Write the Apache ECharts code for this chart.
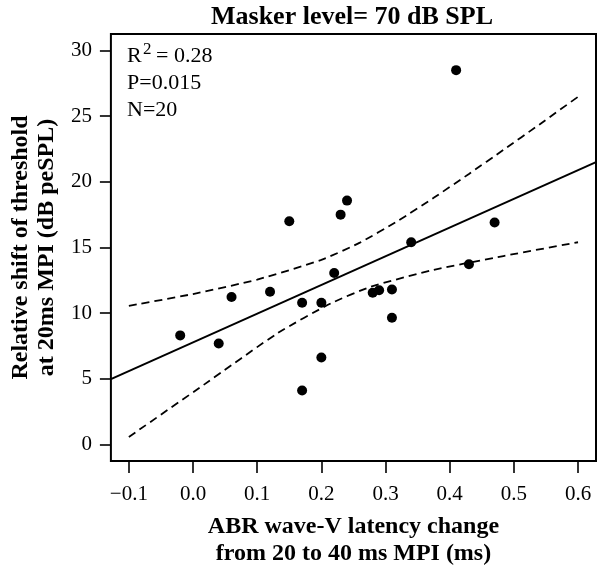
<!DOCTYPE html>
<html>
<head>
<meta charset="utf-8">
<script src="https://cdn.jsdelivr.net/npm/echarts@6/dist/echarts.min.js"></script>
<style>html,body{margin:0;padding:0;background:#fff;}#c{width:604px;height:576px;}</style>
</head>
<body>
<div id="c"></div>
<script>
// ---- data ----
const xTicks = [-0.1, 0.0, 0.1, 0.2, 0.3, 0.4, 0.5, 0.6];
const yTicks = [0, 5, 10, 15, 20, 25, 30];
const ptsX = [-0.02, 0.04, 0.06, 0.12, 0.15, 0.17, 0.17, 0.20, 0.20, 0.22, 0.23, 0.24, 0.28, 0.29, 0.31, 0.31, 0.34, 0.41, 0.43, 0.47];
const ptsY = [8.31, 7.70, 11.23, 11.63, 17.0, 10.8, 4.12, 10.8, 6.63, 13.06, 17.5, 18.57, 11.56, 11.74, 11.81, 9.65, 15.4, 28.5, 13.72, 16.9];
const fitX = [-0.128, 0.628];
const fitY = [4.98, 21.5];
const upperX = [-0.1, 0.0, 0.1, 0.2, 0.26, 0.32, 0.375, 0.43, 0.4837, 0.54, 0.6];
const upperY = [10.56, 11.46, 12.56, 14.06, 15.37, 17.05, 18.78, 20.6, 22.43, 24.37, 26.47];
const lowerX = [-0.1, 0.0188, 0.1325, 0.215, 0.277, 0.375, 0.4837, 0.6];
const lowerY = [0.58, 4.62, 8.5, 10.75, 12.01, 13.3, 14.35, 15.4];
const titleText = 'Masker level= 70 dB SPL';
const xName = 'ABR wave-V latency change\nfrom 20 to 40 ms MPI (ms)';
const yName = 'Relative shift of threshold\nat 20ms MPI (dB peSPL)';

const zip = (a, b) => a.map((v, i) => [v, b[i]]);
const FONT = '"Liberation Serif", "Times New Roman", serif';

const chart = echarts.init(document.getElementById('c'), null, {renderer: 'canvas'});
chart.setOption({
  animation: false,
  backgroundColor: '#fff',
  grid: {left: 108, right: 8, top: 34, bottom: 115, show: true, borderColor: '#000', borderWidth: 2, backgroundColor: 'transparent'},
  xAxis: {
    type: 'value', min: -0.128, max: 0.628,
    axisLine: {show: false, onZero: false},
    splitLine: {show: false},
    axisTick: {show: true, customValues: xTicks, length: 12, lineStyle: {color: '#000', width: 1.6}},
    axisLabel: {customValues: xTicks, margin: 23, color: '#000', fontFamily: FONT, fontSize: 21,
      formatter: v => (v < -1e-9 ? '\u2212' : '') + Math.abs(v).toFixed(1)},
    name: xName, nameLocation: 'middle', nameGap: 52,
    nameTextStyle: {color: '#000', fontFamily: FONT, fontSize: 24, fontWeight: 'bold', lineHeight: 27}
  },
  yAxis: {
    type: 'value', min: -1.25, max: 31.25,
    axisLine: {show: false, onZero: false},
    splitLine: {show: false},
    axisTick: {show: true, customValues: yTicks, length: 11, lineStyle: {color: '#000', width: 1.6}},
    axisLabel: {customValues: yTicks, margin: 19, color: '#000', fontFamily: FONT, fontSize: 21,
      formatter: v => String(Math.round(v))},
    name: yName, nameLocation: 'middle', nameGap: 46, nameRotate: 90,
    nameTextStyle: {color: '#000', fontFamily: FONT, fontSize: 24, fontWeight: 'bold', lineHeight: 26}
  },
  series: [
    {type: 'line', data: zip(fitX, fitY), showSymbol: false, symbol: 'none',
      lineStyle: {color: '#000', width: 2}, z: 3},
    {type: 'line', data: zip(upperX, upperY), showSymbol: false, symbol: 'none', smooth: 0.2,
      lineStyle: {color: '#000', width: 1.8, type: [8, 5]}, z: 3},
    {type: 'line', data: zip(lowerX, lowerY), showSymbol: false, symbol: 'none', smooth: 0.2,
      lineStyle: {color: '#000', width: 1.8, type: [8, 5]}, z: 3},
    {type: 'scatter', data: zip(ptsX, ptsY), symbol: 'circle', symbolSize: 10,
      itemStyle: {color: '#000', opacity: 1}, z: 4}
  ],
  graphic: [
    {type: 'text', x: 352, y: 17.5, style: {text: titleText, fill: '#000', font: 'bold 26px ' + FONT, textAlign: 'center', textVerticalAlign: 'middle'}},
    {type: 'text', x: 127, y: 56.6, style: {text: 'R', fill: '#000', font: '22px ' + FONT, textAlign: 'left', textVerticalAlign: 'middle'}},
    {type: 'text', x: 143, y: 49.3, style: {text: '2', fill: '#000', font: '17px ' + FONT, textAlign: 'left', textVerticalAlign: 'middle'}},
    {type: 'text', x: 156, y: 56.6, style: {text: '= 0.28', fill: '#000', font: '22px ' + FONT, textAlign: 'left', textVerticalAlign: 'middle'}},
    {type: 'text', x: 127, y: 83.6, style: {text: 'P=0.015', fill: '#000', font: '22px ' + FONT, textAlign: 'left', textVerticalAlign: 'middle'}},
    {type: 'text', x: 127, y: 110.6, style: {text: 'N=20', fill: '#000', font: '22px ' + FONT, textAlign: 'left', textVerticalAlign: 'middle'}}
  ]
});
</script>
</body>
</html>
